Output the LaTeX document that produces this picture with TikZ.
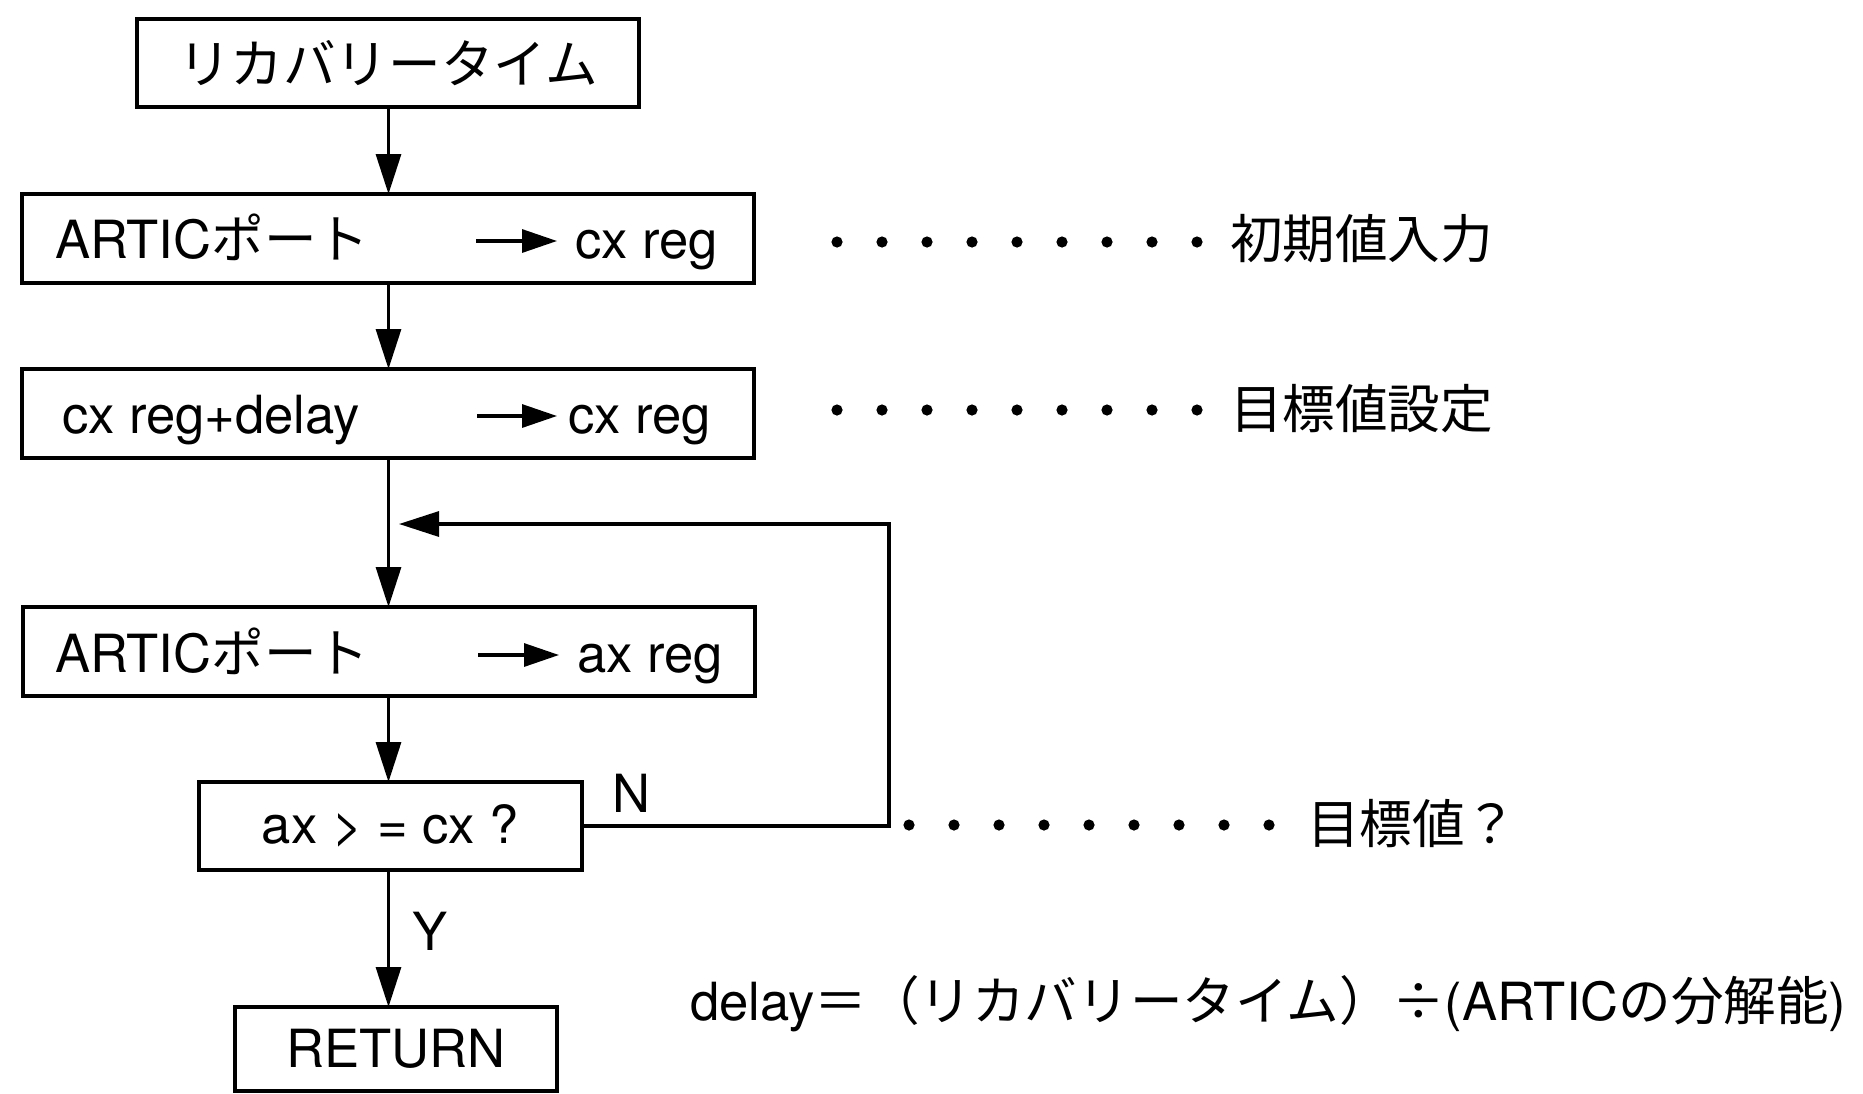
\documentclass[tikz,border=0pt]{standalone}
\usepackage{fontspec}
\setmainfont{TeX Gyre Heros}
\newfontfamily\jp{Noto Sans CJK JP}
\usetikzlibrary{arrows.meta}
\newcommand\dfs{\fontsize{26.3pt}{30pt}\selectfont}
\begin{document}
\begin{tikzpicture}[x=0.5pt,y=-0.5pt,
  box/.style={draw, line width=1.6pt, inner sep=0pt, outer sep=0pt, font=\dfs},
  txt/.style={anchor=base west, inner sep=0pt, outer sep=0pt, font=\dfs},
  arr/.style={line width=1.6pt, -{Triangle[length=20pt,width=12.5pt]}},
  tarr/.style={line width=1.6pt, -{Triangle[length=17.5pt,width=11.5pt]}},
  leader/.style={line width=5.6pt, line cap=round, dash pattern=on 0pt off 22.5pt}
]
\useasboundingbox (0,0) rectangle (1863,1093);
\fill[white] (0,0) rectangle (1863,1093);

% boxes
\node[box, minimum width=251pt, minimum height=44pt] (b1) at (388,63) {\jp リカバリータイム};
\node[box, minimum width=366pt, minimum height=44.5pt] (b2) at (388,238.5) {};
\node[box, minimum width=366pt, minimum height=44.5pt] (b3) at (388,413.5) {};
\node[box, minimum width=366pt, minimum height=44.5pt] (b4) at (389,651.5) {};
\node[box, minimum width=191.5pt, minimum height=44pt] (b5) at (390.5,826) {ax > = cx ?};
\node[box, minimum width=161pt, minimum height=42pt] (b6) at (396,1049) {RETURN};

% box contents
\node[txt] (t2a) at (55,258) {ARTIC{\jp ポート}};
\node[txt] (t2b) at (575,258) {cx reg};
\coordinate (a2s) at (476,241); \coordinate (a2e) at (557,241);
\draw[tarr] (a2s) -- (a2e);

\node[txt] (t3a) at (62,433) {cx reg+delay};
\node[txt] (t3b) at (568,433) {cx reg};
\coordinate (a3s) at (477,416); \coordinate (a3e) at (557,416);
\draw[tarr] (a3s) -- (a3e);

\node[txt] (t4a) at (55,672) {ARTIC{\jp ポート}};
\node[txt] (t4b) at (577,672) {ax reg};
\coordinate (a4s) at (478,655); \coordinate (a4e) at (559,655);
\draw[tarr] (a4s) -- (a4e);

% main flow
\coordinate (spine) at (388.5,0);
\coordinate (join) at (399,524);
\draw[arr] (b1.south -| spine) -- (b2.north -| spine);
\draw[arr] (b2.south -| spine) -- (b3.north -| spine);
\draw[arr] (b3.south -| spine) -- (b4.north -| spine);
\draw[arr] (b4.south -| spine) -- (b5.north -| spine);
\draw[arr] (b5.south -| spine) -- (b6.north -| spine);

% feedback loop
\coordinate (fbx) at (889,0);
\coordinate (fbt) at (889,524);
\draw[arr] (b5.east) -- (b5.east -| fbx) -- (fbt) -- (join);

\node[txt] (lN) at (612,812) {N};
\node[txt] (lY) at (412,950) {Y};

% annotations
\node[txt] (l1) at (1230,258) {\jp 初期値入力};
\coordinate (d1) at (837,242);
\draw[leader] (d1) -- (d1 -| l1.west);

\node[txt] (l2) at (1230,428) {\jp 目標値設定};
\coordinate (d2) at (837,410);
\draw[leader] (d2) -- (d2 -| l2.west);

\node[txt] (l3) at (1307,843) {\jp 目標値？};
\coordinate (d3) at (909,825);
\draw[leader] (d3) -- (d3 -| l3.west);

\node[txt] (fm) at (690,1020) {delay{\jp ＝（リカバリータイム）\makebox[1em]{÷}}(ARTIC{\jp の分解能})};
\end{tikzpicture}
\end{document}
